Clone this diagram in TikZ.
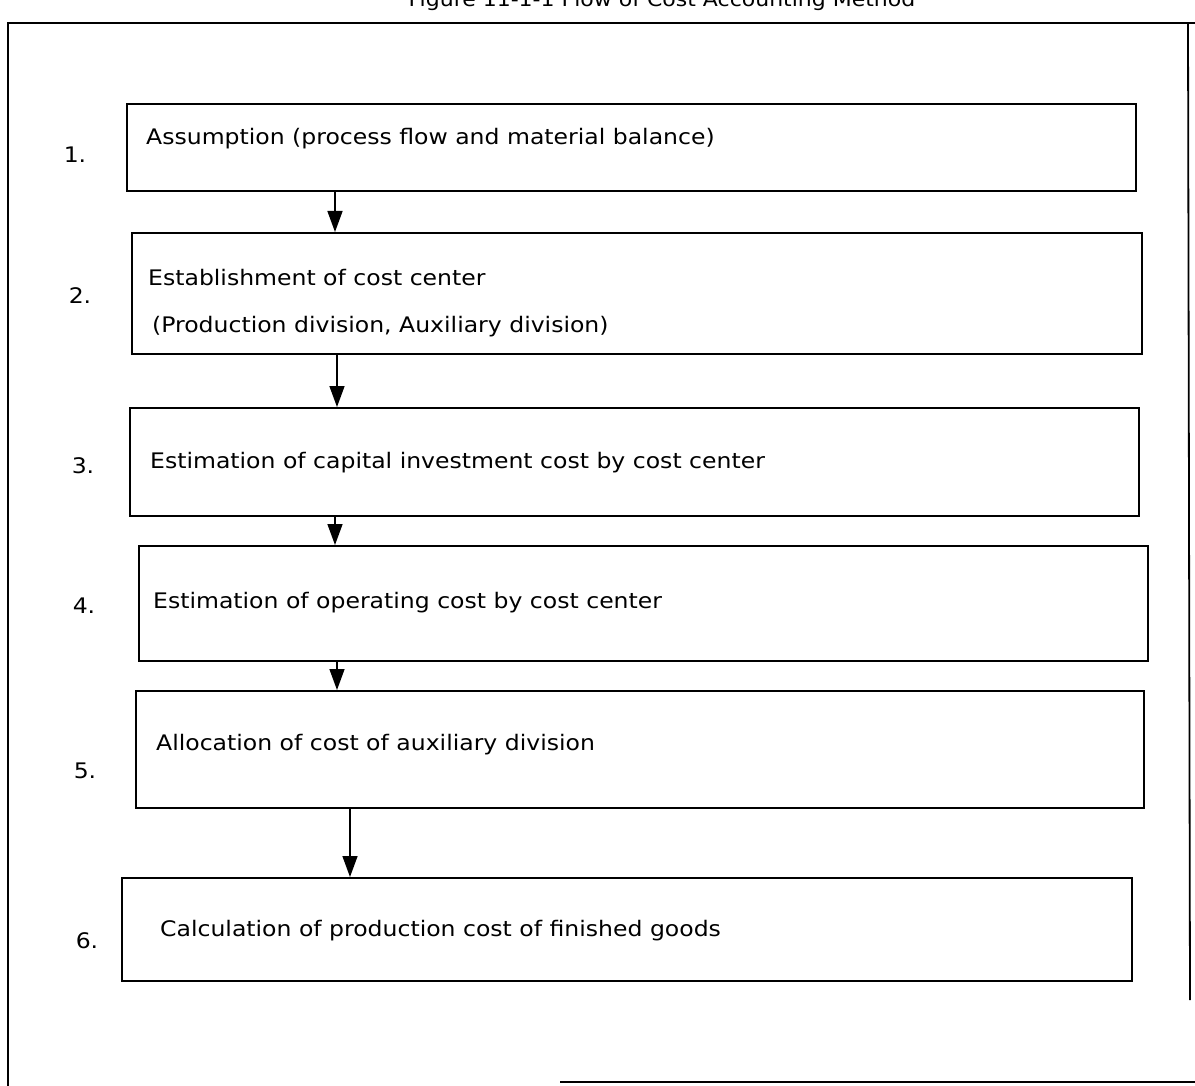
\documentclass[tikz,border=0pt]{standalone}
\usepackage{fontspec}
\setmainfont{DejaVu Sans}[FakeStretch=1.1]
\usetikzlibrary{arrows.meta}
\begin{document}
\begin{tikzpicture}[x=1pt,y=-1pt,
  stepbox/.style={draw,line width=1.6pt,rectangle,anchor=north west,inner sep=0pt},
  steptext/.style={anchor=base west,inner sep=0pt,font=\fontsize{21.4}{26}\selectfont},
  numlabel/.style={anchor=base,inner sep=0pt,font=\fontsize{21.4}{26}\selectfont},
  arr/.style={line width=1.5pt,-{Triangle[length=21pt,width=15pt]}},
  frame/.style={line width=1.8pt}]
\useasboundingbox (0,0) rectangle (1195,1086);
% title (cut at the top edge, as in the reference)
\node[anchor=base,inner sep=0pt,font=\fontsize{20}{24}\selectfont] (title) at (662,7) {Figure 11-1-1 Flow of Cost Accounting Method};
% outer frame
\coordinate (ftl) at (8,23);
\coordinate (ftr) at (1195,23);
\coordinate (fbl) at (8,1086);
\coordinate (frt) at (1188,23);
\coordinate (frb) at (1190,1000);
\coordinate (fbs) at (560,1082);
\coordinate (fbe) at (1195,1082);
\draw[frame] (ftr) -- (ftl) -- (fbl);
\draw[frame] (frt) -- (frb);
\draw[frame] (fbs) -- (fbe);
% boxes
\node[stepbox,minimum width=1009pt,minimum height=87pt] (b1) at (126,103) {};
\node[stepbox,minimum width=1010pt,minimum height=121pt] (b2) at (131,232) {};
\node[stepbox,minimum width=1009pt,minimum height=108pt] (b3) at (129,407) {};
\node[stepbox,minimum width=1009pt,minimum height=115pt] (b4) at (138,545) {};
\node[stepbox,minimum width=1008pt,minimum height=117pt] (b5) at (135,690) {};
\node[stepbox,minimum width=1010pt,minimum height=103pt] (b6) at (121,877) {};
% texts
\node[steptext] (t1) at (146,145) {Assumption (process flow and material balance)};
\node[steptext] (t2a) at (148,286) {Establishment of cost center};
\node[steptext] (t2b) at (152,333) {(Production division, Auxiliary division)};
\node[steptext] (t3) at (150,468) {Estimation of capital investment cost by cost center};
\node[steptext] (t4) at (153,608) {Estimation of operating cost by cost center};
\node[steptext] (t5) at (156,750) {Allocation of cost of auxiliary division};
\node[steptext] (t6) at (160,936) {Calculation of production cost of finished goods};
% numbers
\node[numlabel] (n1) at (75,163) {1.};
\node[numlabel] (n2) at (80,304) {2.};
\node[numlabel] (n3) at (83,473) {3.};
\node[numlabel] (n4) at (84,613) {4.};
\node[numlabel] (n5) at (85,778) {5.};
\node[numlabel] (n6) at (87,948) {6.};
% arrows
\coordinate (a1) at (335,0);
\coordinate (a2) at (337,0);
\coordinate (a3) at (335,0);
\coordinate (a4) at (337,0);
\coordinate (a5) at (350,0);
\draw[arr] (b1.south -| a1) -- (b2.north -| a1);
\draw[arr] (b2.south -| a2) -- (b3.north -| a2);
\draw[arr] (b3.south -| a3) -- (b4.north -| a3);
\draw[arr] (b4.south -| a4) -- (b5.north -| a4);
\draw[arr] (b5.south -| a5) -- (b6.north -| a5);
\end{tikzpicture}
\end{document}
